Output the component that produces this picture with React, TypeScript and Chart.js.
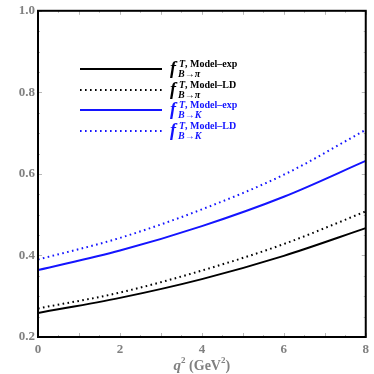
import React, { useEffect, useRef } from "react";
import { Chart, registerables } from "chart.js";

Chart.register(...registerables);

const q2Values = [0, 2, 4, 6, 8];
const piExp = [0.259, 0.296, 0.342, 0.399, 0.467];
const piLD = [0.27, 0.309, 0.363, 0.428, 0.508];
const kExp = [0.364, 0.412, 0.472, 0.544, 0.632];
const kLD = [0.39, 0.443, 0.513, 0.598, 0.708];
const xTicks = [0, 2, 4, 6, 8];
const yTicks = [0.2, 0.4, 0.6, 0.8, 1.0];

const BLUE = "#1414ff";
const BLACK = "#000000";
const TICK_GRAY = "#808080";
const SERIF = "'Liberation Serif', 'DejaVu Serif', serif";

const legendItems = [
  { sup: "T, Model\u2013exp", sub: "B\u2192\u03c0", color: BLACK, dash: [] as number[] },
  { sup: "T, Model\u2013LD", sub: "B\u2192\u03c0", color: BLACK, dash: [1.6, 3.4] },
  { sup: "T, Model\u2013exp", sub: "B\u2192K", color: BLUE, dash: [] as number[] },
  { sup: "T, Model\u2013LD", sub: "B\u2192K", color: BLUE, dash: [1.6, 3.4] },
];

const framePlugin = {
  id: "frameAndLegend",
  afterDraw(chart: any) {
    const ctx = chart.ctx;
    const { left, right, top, bottom } = chart.chartArea;
    ctx.save();
    const xs = chart.scales.x;
    const ys = chart.scales.y;
    ctx.strokeStyle = "#b8b8b8";
    ctx.lineWidth = 1;
    for (let v = 0; v <= 8.001; v += 0.5) {
      const px = Math.round(xs.getPixelForValue(v)) + 0.5;
      const len = Math.abs(v - Math.round(v)) < 1e-6 ? 4 : 2;
      ctx.beginPath();
      ctx.moveTo(px, bottom);
      ctx.lineTo(px, bottom - len);
      ctx.moveTo(px, top);
      ctx.lineTo(px, top + len);
      ctx.stroke();
    }
    for (let v = 0.2; v <= 1.0001; v += 0.05) {
      const py = Math.round(ys.getPixelForValue(v)) + 0.5;
      const major = Math.abs(v * 10 - Math.round(v * 10)) < 1e-6 && Math.round(v * 10) % 2 === 0;
      const len = major ? 4 : 2;
      ctx.beginPath();
      ctx.moveTo(left, py);
      ctx.lineTo(left + len, py);
      ctx.moveTo(right, py);
      ctx.lineTo(right - len, py);
      ctx.stroke();
    }
    ctx.strokeStyle = "#000";
    ctx.lineWidth = 2;
    ctx.strokeRect(left, top, right - left, bottom - top);

    // axis title
    ctx.fillStyle = TICK_GRAY;
    ctx.textBaseline = "alphabetic";
    ctx.textAlign = "left";
    const parts: [string, string, number][] = [
      ["q", `italic bold 15px ${SERIF}`, 0],
      ["2", `bold 9px ${SERIF}`, -7],
      [" (GeV", `bold 14px ${SERIF}`, 0],
      ["2", `bold 9px ${SERIF}`, -7],
      [")", `bold 14px ${SERIF}`, 0],
    ];
    let total = 0;
    for (const [t, f] of parts) {
      ctx.font = f;
      total += ctx.measureText(t).width;
    }
    let x = (left + right) / 2 - total / 2;
    const baseY = 370;
    for (const [t, f, dy] of parts) {
      ctx.font = f;
      ctx.fillText(t, x, baseY + dy);
      x += ctx.measureText(t).width;
    }

    // legend
    const lineX0 = 80;
    const lineX1 = 162;
    const rowY = [69, 90, 110, 131];
    legendItems.forEach((it, i) => {
      const y = rowY[i];
      ctx.strokeStyle = it.color;
      ctx.lineWidth = 2;
      ctx.setLineDash(it.dash);
      ctx.beginPath();
      ctx.moveTo(lineX0, y);
      ctx.lineTo(lineX1, y);
      ctx.stroke();
      ctx.setLineDash([]);
      ctx.fillStyle = it.color;
      ctx.font = `italic bold 18px ${SERIF}`;
      ctx.fillText("f", 170, y + 5);
      ctx.font = `italic bold 10px ${SERIF}`;
      ctx.fillText("T", 179, y - 2);
      const tw = ctx.measureText("T").width;
      ctx.font = `bold 10px ${SERIF}`;
      ctx.fillText(it.sup.slice(1), 179 + tw, y - 2);
      ctx.font = `italic bold 10px ${SERIF}`;
      ctx.fillText(it.sub, 178, y + 8);
    });
    ctx.restore();
  },
};

export default function App() {
  const ref = useRef<HTMLCanvasElement | null>(null);
  useEffect(() => {
    document.body.style.margin = "0";
    if (!ref.current) return;
    const mk = (label: string, data: number[], color: string, dash: number[]) => ({
      label,
      data: q2Values.map((q, i) => ({ x: q, y: data[i] })),
      borderColor: color,
      borderWidth: 2,
      borderDash: dash,
      pointRadius: 0,
      fill: false,
      cubicInterpolationMode: "monotone" as const,
    });
    const chart = new Chart(ref.current, {
      type: "line",
      data: {
        datasets: [
          mk("piExp", piExp, BLACK, []),
          mk("piLD", piLD, BLACK, [1.6, 3.4]),
          mk("kExp", kExp, BLUE, []),
          mk("kLD", kLD, BLUE, [1.6, 3.4]),
        ],
      },
      options: {
        animation: false,
        responsive: false,
        layout: { padding: { top: 7, right: 6, left: 0, bottom: 0 } },
        plugins: { legend: { display: false }, tooltip: { enabled: false } },
        scales: {
          x: {
            type: "linear",
            min: 0,
            max: 8,
            afterFit: (s: any) => {
              s.height = 37;
            },
            afterBuildTicks: (s: any) => {
              s.ticks = xTicks.map((v) => ({ value: v }));
            },
            grid: { display: false, drawTicks: false },
            border: { display: false },
            ticks: {
              padding: 5,
              color: TICK_GRAY,
              font: { family: SERIF, weight: "bold", size: 13 },
              callback: (v: any) => String(v),
            },
          },
          y: {
            type: "linear",
            min: 0.2,
            max: 1.0,
            afterFit: (s: any) => {
              s.width = 38;
            },
            afterBuildTicks: (s: any) => {
              s.ticks = yTicks.map((v) => ({ value: v }));
            },
            grid: { display: false, drawTicks: false },
            border: { display: false },
            ticks: {
              padding: 3,
              color: TICK_GRAY,
              font: { family: SERIF, weight: "bold", size: 13 },
              callback: (v: any) => Number(v).toFixed(1),
            },
          },
        },
      } as any,
      plugins: [framePlugin],
    });
    return () => chart.destroy();
  }, []);
  return (
    <div style={{ position: "fixed", left: 0, top: 0, width: 374, height: 374, background: "#fff" }}>
      <canvas ref={ref} width={374} height={374} />
    </div>
  );
}
